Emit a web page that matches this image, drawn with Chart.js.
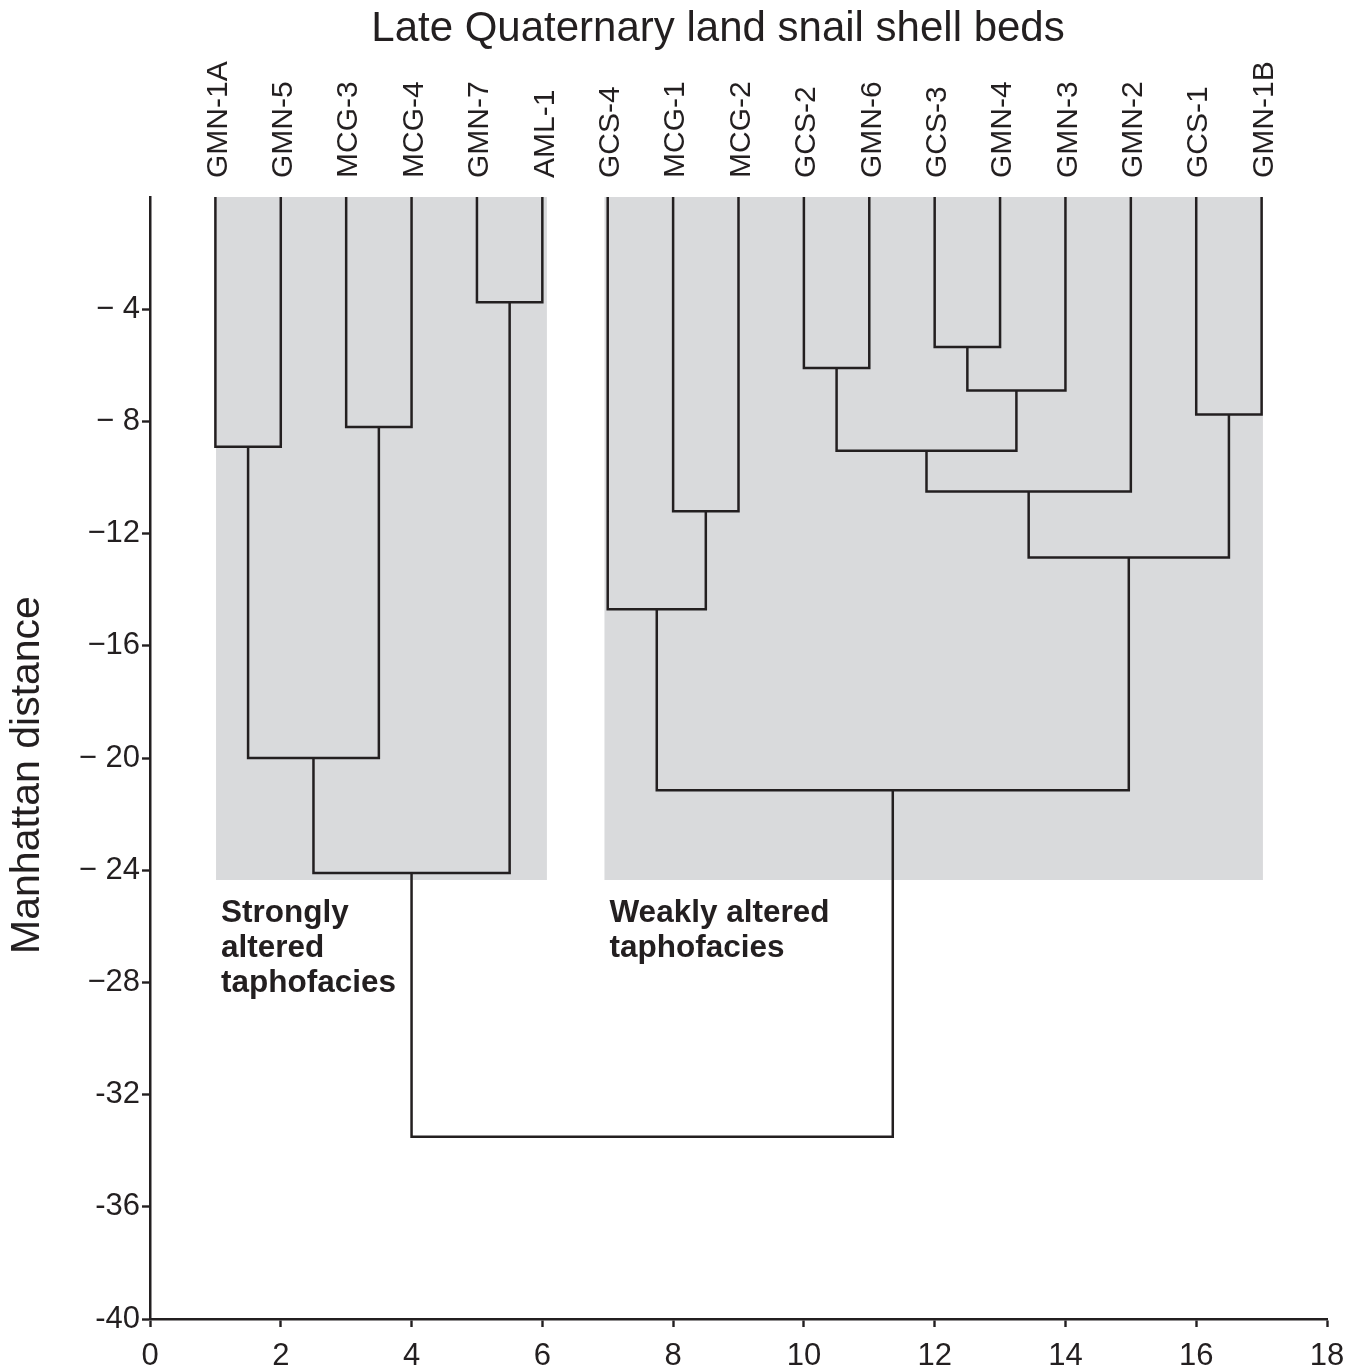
<!DOCTYPE html>
<html><head><meta charset="utf-8">
<script src="https://cdn.jsdelivr.net/npm/chart.js@4.4.1/dist/chart.umd.min.js"></script>
<style>html,body{margin:0;padding:0;background:#fff}#wrap{width:1357px;height:1369px;position:relative}</style>
</head><body><div id="wrap"><canvas id="c" width="1357" height="1369"></canvas></div>
<script>
// ---- data ----
const chartTitle = "Late Quaternary land snail shell beds";
const yAxisTitle = "Manhattan distance";
const leaves = ["GMN-1A","GMN-5","MCG-3","MCG-4","GMN-7","AML-1","GCS-4","MCG-1","MCG-2","GCS-2","GMN-6","GCS-3","GMN-4","GMN-3","GMN-2","GCS-1","GMN-1B"];
// merges: node ids 0..16 are leaves, merge k creates node 17+k
const mergeLeft   = [0, 2, 4, 17, 20, 7, 6, 9, 11, 25, 24, 27, 15, 28, 23, 21];
const mergeRight  = [1, 3, 5, 18, 19, 8, 22, 10, 12, 13, 26, 14, 16, 29, 30, 31];
const mergeHeight = [-8.9, -8.2, -3.75, -20.0, -24.1, -11.2, -14.7, -6.1, -5.35, -6.9, -9.05, -10.5, -7.75, -12.85, -21.15, -33.5];
const yTickValues = [-4, -8, -12, -16, -20, -24, -28, -32, -36, -40];
const yTickLabels = ["\u2212 4", "\u2212 8", "\u221212", "\u221216", "\u2212 20", "\u2212 24", "\u221228", "-32", "-36", "-40"];
const xTickValues = [0, 2, 4, 6, 8, 10, 12, 14, 16, 18];
const groupStart = [1.01, 6.95];
const groupEnd = [6.07, 17.02];
const groupDepth = [-24.35, -24.35];
const groupNotes = [["Strongly", "altered", "taphofacies"], ["Weakly altered", "taphofacies"]];

// ---- build dendrogram segments from the merge table ----
const INK = "#231f20";
const nodeX = leaves.map((_, i) => i + 1);
const nodeH = leaves.map(() => 0);
const datasets = [];
for (let k = 0; k < mergeHeight.length; k++) {
  const l = mergeLeft[k], r = mergeRight[k], h = mergeHeight[k];
  datasets.push({
    data: [{x: nodeX[l], y: nodeH[l]}, {x: nodeX[l], y: h}, {x: nodeX[r], y: h}, {x: nodeX[r], y: nodeH[r]}],
    showLine: true, borderColor: INK, borderWidth: 2.5, pointRadius: 0, tension: 0, fill: false, clip: false,
    borderCapStyle: 'butt', borderJoinStyle: 'miter'
  });
  nodeX.push((nodeX[l] + nodeX[r]) / 2);
  nodeH.push(h);
}

const FONT = "'Liberation Sans', Arial, Helvetica, sans-serif";

const decor = {
  id: 'decor',
  beforeDatasetsDraw(chart) {
    const {ctx} = chart, xs = chart.scales.x, ys = chart.scales.y;
    ctx.save();
    ctx.fillStyle = "#d9dadc";
    for (let g = 0; g < groupStart.length; g++) {
      const x0 = xs.getPixelForValue(groupStart[g]), x1 = xs.getPixelForValue(groupEnd[g]);
      const y0 = ys.getPixelForValue(0), y1 = ys.getPixelForValue(groupDepth[g]);
      ctx.fillRect(x0, y0, x1 - x0, y1 - y0);
    }
    ctx.restore();
  },
  afterDraw(chart) {
    const {ctx, chartArea} = chart, xs = chart.scales.x, ys = chart.scales.y;
    ctx.save();
    ctx.fillStyle = INK;
    // title
    ctx.font = "42px " + FONT;
    ctx.textAlign = "center"; ctx.textBaseline = "middle";
    ctx.fillText(chartTitle, 718, 29);
    // y axis title
    ctx.save();
    ctx.font = "41px " + FONT;
    ctx.translate(28, 775);
    ctx.rotate(-Math.PI / 2);
    ctx.fillText(yAxisTitle, 0, 0);
    ctx.restore();
    // leaf labels
    ctx.font = "30px " + FONT;
    leaves.forEach((name, i) => {
      const x = xs.getPixelForValue(i + 1);
      ctx.save();
      ctx.translate(x + 3, chartArea.top - 19);
      ctx.rotate(-Math.PI / 2);
      ctx.textAlign = "left"; ctx.textBaseline = "middle";
      ctx.fillText(name, 0, 0);
      ctx.restore();
    });
    // group notes
    ctx.font = "bold 31.5px " + FONT;
    ctx.textAlign = "left"; ctx.textBaseline = "middle";
    groupNotes.forEach((lines, g) => {
      const x = xs.getPixelForValue(groupStart[g]) + 5;
      const y = ys.getPixelForValue(groupDepth[g]) + 33;
      lines.forEach((t, j) => ctx.fillText(t, x, y + j * 35));
    });
    ctx.restore();
  }
};

new Chart(document.getElementById('c'), {
  type: 'scatter',
  data: {datasets},
  plugins: [decor],
  options: {
    responsive: false, animation: false, devicePixelRatio: 1,
    layout: {padding: {top: 197, right: 30, left: 0, bottom: 0}},
    plugins: {legend: {display: false}, tooltip: {enabled: false}, title: {display: false}},
    scales: {
      x: {
        type: 'linear', min: 0, max: 18,
        afterBuildTicks: s => { s.ticks = xTickValues.map(v => ({value: v})); },
        afterFit: s => { s.height = 50; },
        ticks: {font: {size: 31, family: FONT}, color: INK, maxRotation: 0, autoSkip: false, padding: 11},
        grid: {drawOnChartArea: false, tickLength: 8, tickWidth: 2.4, tickColor: INK},
        border: {color: INK, width: 2.5}
      },
      y: {
        type: 'linear', min: -40, max: 0,
        afterBuildTicks: s => { s.ticks = yTickValues.map(v => ({value: v})); },
        afterFit: s => { s.width = 150; },
        ticks: {font: {size: 31, family: FONT}, color: INK, padding: 2, autoSkip: false,
          callback: v => yTickLabels[yTickValues.indexOf(v)]},
        title: {display: false},
        grid: {drawOnChartArea: false, tickLength: 8, tickWidth: 2.4, tickColor: INK},
        border: {color: INK, width: 2.5}
      }
    }
  }
});
</script></body></html>
